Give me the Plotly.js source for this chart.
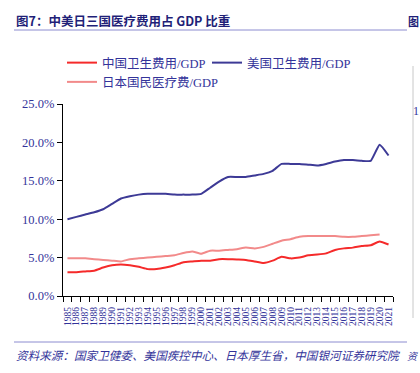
<!DOCTYPE html>
<html>
<head>
<meta charset="utf-8">
<script src="https://cdn.plot.ly/plotly-3.0.1.min.js"></script>
<style>
html,body{margin:0;padding:0;background:#fff;}
#chart{width:420px;height:373px;}
</style>
</head>
<body>
<div id="chart"></div>
<script>
const years = ["1985","1986","1987","1988","1989","1990","1991","1992","1993","1994","1995","1996","1997","1998","1999","2000","2001","2002","2003","2004","2005","2006","2007","2008","2009","2010","2011","2012","2013","2014","2015","2016","2017","2018","2019","2020","2021"];
const chinaPct = [3.1,3.1,3.2,3.3,3.7,4.0,4.1,4.0,3.8,3.5,3.5,3.7,4.0,4.4,4.5,4.6,4.6,4.8,4.8,4.75,4.7,4.5,4.3,4.6,5.1,4.9,5.0,5.3,5.4,5.55,6.0,6.2,6.3,6.5,6.6,7.1,6.7];
const usPct = [10.0,10.3,10.6,10.9,11.3,12.0,12.7,13.0,13.2,13.3,13.3,13.3,13.2,13.2,13.2,13.3,14.1,14.9,15.5,15.5,15.5,15.7,15.9,16.3,17.2,17.2,17.2,17.1,17.0,17.2,17.5,17.7,17.7,17.6,17.6,19.7,18.3];
const japanPct = [4.9,4.9,4.9,4.8,4.7,4.6,4.5,4.8,4.9,5.0,5.1,5.2,5.3,5.6,5.8,5.5,5.9,5.9,6.0,6.1,6.3,6.2,6.4,6.8,7.2,7.4,7.7,7.8,7.8,7.8,7.8,7.7,7.7,7.8,7.9,8.0,null];
const yTicks = [0,5,10,15,20,25];
const yTickText = ["0.0%","5.0%","10.0%","15.0%","20.0%","25.0%"];
const names = ["中国卫生费用/GDP","美国卫生费用/GDP","日本国民医疗费/GDP"];

const W=420,H=373,L=63,R=27,T=104,B=77;
const pw=W-L-R, ph=H-T-B;
const px=x=>(x-L)/pw, py=y=>(H-B-y)/ph;
const navy="#33339a";

const traces=[
 {x:years,y:chinaPct,name:names[0],type:"scatter",mode:"lines",line:{color:"#f52a2a",width:2,shape:"spline",smoothing:0.4}},
 {x:years,y:usPct,name:names[1],type:"scatter",mode:"lines",line:{color:"#3d3a96",width:2,shape:"spline",smoothing:0.4}},
 {x:years,y:japanPct,name:names[2],type:"scatter",mode:"lines",line:{color:"#f28a8a",width:2,shape:"spline",smoothing:0.4}}
];

const layout={
 width:W,height:H,
 margin:{l:L,r:R,t:T,b:B,pad:0},
 paper_bgcolor:"#fff",plot_bgcolor:"#fff",
 showlegend:true,
 legend:{orientation:"h",x:px(62),xanchor:"left",y:py(48),yanchor:"top",
   font:{family:"Liberation Serif, Noto Sans CJK SC",size:12.5,color:navy},
   entrywidth:100,entrywidthmode:"pixels",tracegroupgap:0,itemwidth:30,bgcolor:"rgba(0,0,0,0)"},
 xaxis:{type:"category",categoryorder:"array",categoryarray:years,tickmode:"array",tickvals:years,ticktext:years,
   showline:true,linecolor:"#000",linewidth:1.2,ticks:"outside",ticklen:5,tickcolor:"#000",ticklabelstandoff:6,
   tickson:"boundaries",showgrid:false,zeroline:false,tickangle:-90,
   tickfont:{family:"Liberation Serif",size:9.5,color:navy},range:[-0.5,36.5],fixedrange:true},
 yaxis:{range:[0,25],tickvals:yTicks,ticktext:yTickText,showline:true,linecolor:"#000",linewidth:1.2,
   ticks:"outside",ticklen:5,tickcolor:"#000",showgrid:false,zeroline:false,
   tickfont:{family:"Liberation Serif",size:12.5,color:navy},fixedrange:true},
 shapes:[
  {type:"line",xref:"paper",yref:"paper",x0:px(14),x1:px(407),y0:py(30),y1:py(30),line:{color:"#8c8cd0",width:1}},
  {type:"line",xref:"paper",yref:"paper",x0:px(14),x1:px(407),y0:py(342),y1:py(342),line:{color:"#8c8cd0",width:1}},
  {type:"line",xref:"paper",yref:"paper",x0:px(413),x1:px(413),y0:py(66),y1:py(318),line:{color:"#c8c8c8",width:1}}
 ],
 annotations:[
  {text:"<b>图7：中美日三国医疗费用占 GDP 比重</b>",xref:"paper",yref:"paper",x:px(14),y:py(21),xanchor:"left",yanchor:"middle",showarrow:false,
   font:{family:"Noto Sans CJK SC",size:12.5,color:"#1f1f78"}},
  {text:"<i>资料来源：国家卫健委、美国疾控中心、日本厚生省，中国银河证券研究院</i>",xref:"paper",yref:"paper",x:px(14),y:py(355),xanchor:"left",yanchor:"middle",showarrow:false,
   font:{family:"Noto Sans CJK SC",size:11.6,color:navy}},
  {text:"<b>图</b>",xref:"paper",yref:"paper",x:px(420),y:py(21),xanchor:"right",yanchor:"middle",showarrow:false,borderpad:0,
   font:{family:"Noto Sans CJK SC",size:11,color:"#1f1f78"}},
  {text:"<i>资</i>",xref:"paper",yref:"paper",x:px(420),y:py(355),xanchor:"right",yanchor:"middle",showarrow:false,borderpad:0,
   font:{family:"Noto Sans CJK SC",size:10,color:navy}},
  {text:"1",xref:"paper",yref:"paper",x:px(420),y:py(111),xanchor:"right",yanchor:"middle",showarrow:false,borderpad:0,
   font:{family:"Liberation Serif",size:12,color:navy}}
 ]
};
Plotly.newPlot("chart",traces,layout,{displayModeBar:false,staticPlot:true});
</script>
</body>
</html>
